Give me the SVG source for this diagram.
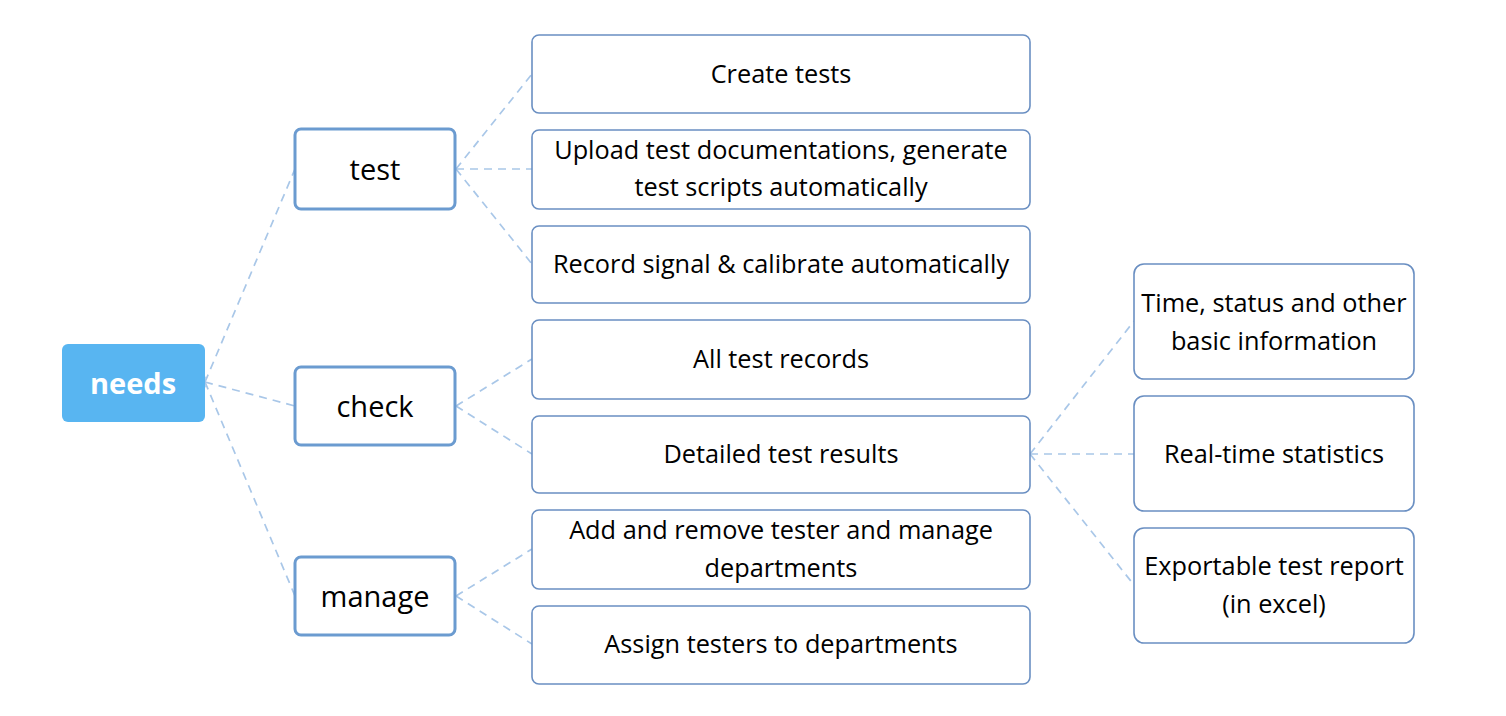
<svg xmlns="http://www.w3.org/2000/svg" width="1506" height="716" viewBox="0 0 1506 716">
<style>
.l1{fill:#fff;stroke:#6b9bd0;stroke-width:3}
.l2{fill:#fff;stroke:#6a8fc2;stroke-width:1.6}
.t{font-family:"Open Sans","Noto Sans",sans-serif;fill:#000;text-anchor:middle;dominant-baseline:central}
.t1{font-size:29px}
.t2{font-size:25.3px}
.c{fill:none;stroke:#a9c7e8;stroke-width:1.7;stroke-dasharray:8 6}
</style>
<defs>
<marker id="ah" viewBox="0 0 10 10" refX="1" refY="5" markerWidth="6" markerHeight="6" orient="auto-start-reverse" markerUnits="userSpaceOnUse">
<path d="M9,1 L1,5 L9,9" fill="none" stroke="#a9c7e8" stroke-width="1.6"/>
</marker>
</defs>
<rect width="1506" height="716" fill="#fff"/>
<g id="connectors">
<path class="c" marker-start="url(#ah)" d="M205,382 L295,169"/>
<path class="c" marker-start="url(#ah)" d="M205,382 L295,406"/>
<path class="c" marker-start="url(#ah)" d="M205,382 L295,596"/>
<path class="c" marker-start="url(#ah)" d="M456,169 L532,74"/>
<path class="c" marker-start="url(#ah)" d="M456,169 L532,169"/>
<path class="c" marker-start="url(#ah)" d="M456,169 L532,264"/>
<path class="c" marker-start="url(#ah)" d="M456,406 L532,359"/>
<path class="c" marker-start="url(#ah)" d="M456,406 L532,454"/>
<path class="c" marker-start="url(#ah)" d="M456,596 L532,549"/>
<path class="c" marker-start="url(#ah)" d="M456,596 L532,644"/>
<path class="c" marker-start="url(#ah)" d="M1030,454 L1134,321"/>
<path class="c" marker-start="url(#ah)" d="M1030,454 L1134,454"/>
<path class="c" marker-start="url(#ah)" d="M1030,454 L1134,585"/>
</g>
<g id="needs"><rect x="62" y="344" width="143" height="78" rx="6" fill="#58b5f1"/><text class="t t1" x="133" y="382" font-weight="bold" style="fill:#fff">needs</text></g>
<g id="test"><rect class="l1" x="295" y="129" width="160" height="80" rx="6"/><text class="t t1" x="375" y="168">test</text></g>
<g id="check"><rect class="l1" x="295" y="367" width="160" height="78" rx="6"/><text class="t t1" x="375" y="405">check</text></g>
<g id="manage"><rect class="l1" x="295" y="557" width="160" height="78" rx="6"/><text class="t t1" x="375" y="595">manage</text></g>
<g id="create"><rect class="l2" x="532" y="35" width="498" height="78" rx="7"/><text class="t t2" x="781" y="73">Create tests</text></g>
<g id="upload"><rect class="l2" x="532" y="130" width="498" height="79" rx="7"/><text class="t t2" x="781" y="149">Upload test documentations, generate</text><text class="t t2" x="781" y="186">test scripts automatically</text></g>
<g id="record"><rect class="l2" x="532" y="226" width="498" height="77" rx="7"/><text class="t t2" x="781" y="263">Record signal &amp; calibrate automatically</text></g>
<g id="records"><rect class="l2" x="532" y="320" width="498" height="79" rx="7"/><text class="t t2" x="781" y="358">All test records</text></g>
<g id="detailed"><rect class="l2" x="532" y="416" width="498" height="77" rx="7"/><text class="t t2" x="781" y="453">Detailed test results</text></g>
<g id="addremove"><rect class="l2" x="532" y="510" width="498" height="79" rx="7"/><text class="t t2" x="781" y="529">Add and remove tester and manage</text><text class="t t2" x="781" y="567">departments</text></g>
<g id="assign"><rect class="l2" x="532" y="606" width="498" height="78" rx="7"/><text class="t t2" x="781" y="643">Assign testers to departments</text></g>
<g id="time"><rect class="l2" x="1134" y="264" width="280" height="115" rx="10"/><text class="t t2" x="1274" y="302">Time, status and other</text><text class="t t2" x="1274" y="340">basic information</text></g>
<g id="realtime"><rect class="l2" x="1134" y="396" width="280" height="115" rx="10"/><text class="t t2" x="1274" y="453">Real-time statistics</text></g>
<g id="export"><rect class="l2" x="1134" y="528" width="280" height="115" rx="10"/><text class="t t2" x="1274" y="565">Exportable test report</text><text class="t t2" x="1274" y="603">(in excel)</text></g>
</svg>
